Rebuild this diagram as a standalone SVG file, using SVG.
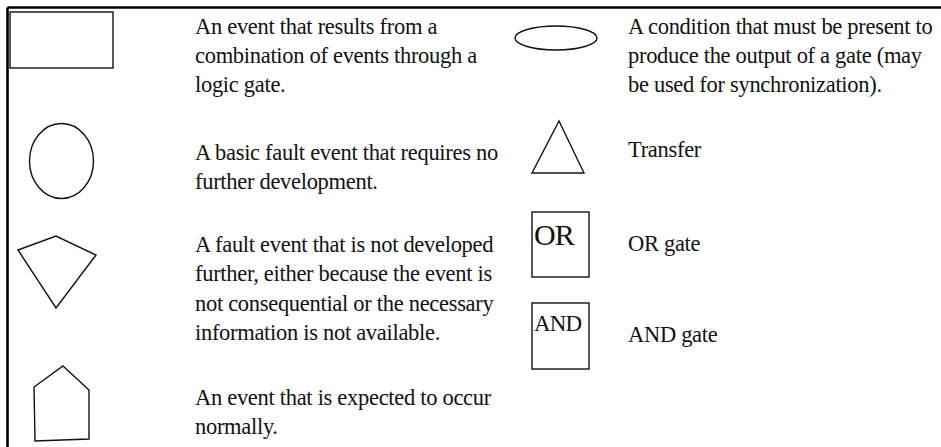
<svg xmlns="http://www.w3.org/2000/svg" width="941" height="447" viewBox="0 0 941 447">
  <style>
    .frame { stroke: #000; stroke-width: 2.6; fill: none; }
    .sym { fill: #fff; stroke: #111; stroke-width: 1.4; stroke-linejoin: miter; }
    .txt { font-family: "Liberation Serif", "Times New Roman", serif; font-size: 22.5px; letter-spacing: -0.3px; fill: #111; }
    .gate { font-family: "Liberation Serif", "Times New Roman", serif; fill: #111; letter-spacing: -0.8px; }
  </style>
  <rect width="941" height="447" fill="#fff"/>

  <!-- outer frame: top and left rules -->
  <g id="frame">
    <line class="frame" x1="7.5" y1="7.5" x2="941" y2="7.5"/>
    <line class="frame" x1="7.5" y1="7.5" x2="7.5" y2="447"/>
  </g>

  <!-- left column: event symbols -->
  <g id="intermediate-event">
    <rect class="sym" x="10" y="12" width="103" height="56"/>
    <text class="txt" x="195" y="34">An event that results from a</text>
    <text class="txt" x="195" y="63">combination of events through a</text>
    <text class="txt" x="195" y="92">logic gate.</text>
  </g>

  <g id="basic-event">
    <ellipse class="sym" cx="61.5" cy="161" rx="32" ry="37.5"/>
    <text class="txt" x="195" y="160">A basic fault event that requires no</text>
    <text class="txt" x="195" y="189">further development.</text>
  </g>

  <g id="undeveloped-event">
    <polygon class="sym" points="18,250 56,236 96,255 56,308"/>
    <text class="txt" x="195" y="252">A fault event that is not developed</text>
    <text class="txt" x="195" y="281">further, either because the event is</text>
    <text class="txt" x="195" y="311">not consequential or the necessary</text>
    <text class="txt" x="195" y="340">information is not available.</text>
  </g>

  <g id="house-event">
    <polygon class="sym" points="63,366 89,390 89,439 35,441 34,387"/>
    <text class="txt" x="195" y="405">An event that is expected to occur</text>
    <text class="txt" x="195" y="434">normally.</text>
  </g>

  <!-- right column: conditions, transfer and gates -->
  <g id="condition">
    <ellipse class="sym" cx="556" cy="38" rx="41" ry="12"/>
    <text class="txt" x="628" y="34">A condition that must be present to</text>
    <text class="txt" x="628" y="63">produce the output of a gate (may</text>
    <text class="txt" x="628" y="92">be used for synchronization).</text>
  </g>

  <g id="transfer">
    <polygon class="sym" points="559,121 584,173 532,173"/>
    <text class="txt" x="628" y="157">Transfer</text>
  </g>

  <g id="or-gate">
    <rect class="sym" x="532" y="212" width="57" height="65"/>
    <text class="gate" x="534" y="245" font-size="30">OR</text>
    <text class="txt" x="628" y="251">OR gate</text>
  </g>

  <g id="and-gate">
    <rect class="sym" x="532" y="303" width="57" height="66"/>
    <text class="gate" x="534" y="331" font-size="23">AND</text>
    <text class="txt" x="628" y="342">AND gate</text>
  </g>
</svg>
